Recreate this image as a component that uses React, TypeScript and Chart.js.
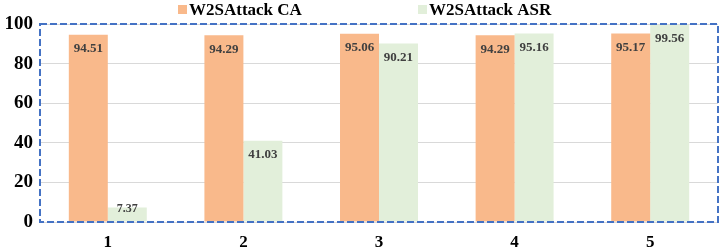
import React, { useEffect, useRef } from "react";
import { Chart, registerables } from "chart.js";

Chart.register(...registerables);

const categories = ["1", "2", "3", "4", "5"];
const caValues = [94.51, 94.29, 95.06, 94.29, 95.17];
const asrValues = [7.37, 41.03, 90.21, 95.16, 99.56];
const seriesNames = ["W2SAttack CA", "W2SAttack ASR"];
const yTicks = [0, 20, 40, 60, 80, 100];

const SERIF = "'Liberation Serif', 'Times New Roman', serif";

const dashedFrame = {
  id: "dashedFrame",
  afterDraw(chart: any) {
    const { ctx, chartArea } = chart;
    ctx.save();
    ctx.strokeStyle = "#4472C4";
    ctx.lineWidth = 2;
    ctx.setLineDash([7, 3]);
    ctx.strokeRect(chartArea.left, chartArea.top, chartArea.right - chartArea.left, chartArea.bottom - chartArea.top);
    ctx.restore();
  },
};

const valueLabels = {
  id: "valueLabels",
  afterDatasetsDraw(chart: any) {
    const { ctx } = chart;
    ctx.save();
    ctx.textAlign = "center";
    ctx.textBaseline = "middle";
    ctx.fillStyle = "#404040";
    chart.data.datasets.forEach((ds: any, di: number) => {
      const meta = chart.getDatasetMeta(di);
      meta.data.forEach((bar: any, i: number) => {
        const v = ds.data[i];
        const h = bar.base - bar.y;
        if (h < 30) {
          ctx.font = `bold 12px ${SERIF}`;
          ctx.fillText(v.toFixed(2), bar.x, bar.y + 1);
        } else {
          ctx.font = `bold 13px ${SERIF}`;
          ctx.fillText(v.toFixed(2), bar.x, bar.y + 14);
        }
      });
    });
    ctx.restore();
  },
};

const customLegend = {
  id: "customLegend",
  afterDraw(chart: any) {
    const { ctx } = chart;
    const starts = [178, 418];
    ctx.save();
    ctx.font = `bold 17px ${SERIF}`;
    ctx.textBaseline = "middle";
    ctx.textAlign = "left";
    chart.data.datasets.forEach((ds: any, di: number) => {
      const x = starts[di];
      ctx.fillStyle = ds.backgroundColor;
      ctx.fillRect(x, 5, 9, 9);
      ctx.fillStyle = "#000000";
      ctx.fillText(ds.label, x + 11, 10.5);
    });
    ctx.restore();
  },
};

export default function App() {
  const ref = useRef<HTMLCanvasElement | null>(null);
  useEffect(() => {
    document.body.style.margin = "0";
    if (!ref.current) return;
    const chart = new Chart(ref.current, {
      type: "bar",
      data: {
        labels: categories,
        datasets: [
          { label: seriesNames[0], data: caValues, backgroundColor: "#F9B98B", categoryPercentage: 0.575, barPercentage: 1.0 },
          { label: seriesNames[1], data: asrValues, backgroundColor: "#E2EFDA", categoryPercentage: 0.575, barPercentage: 1.0 },
        ],
      },
      options: {
        animation: false,
        responsive: false,
        maintainAspectRatio: false,
        layout: { padding: { top: 24, right: 2, left: 0, bottom: 0 } },
        plugins: { legend: { display: false }, tooltip: { enabled: false } },
        scales: {
          x: {
            grid: { display: false, drawTicks: false },
            border: { display: false },
            ticks: { color: "#000", font: { family: SERIF, size: 17, weight: "bold" }, padding: 10 },
            afterFit(scale: any) { scale.height = 29; },
          },
          y: {
            min: 0,
            max: 100,
            afterBuildTicks(scale: any) { scale.ticks = yTicks.map((v) => ({ value: v })); },
            grid: { color: "#D9D9D9", drawTicks: false, lineWidth: 1 },
            border: { display: false },
            ticks: { color: "#000", font: { family: SERIF, size: 19, weight: "bold" }, padding: 7 },
            afterFit(scale: any) { scale.width = 40; },
          },
        },
      },
      plugins: [dashedFrame, valueLabels, customLegend],
    });
    return () => chart.destroy();
  }, []);
  return <canvas ref={ref} width={720} height={251} style={{ display: "block" }} />;
}
